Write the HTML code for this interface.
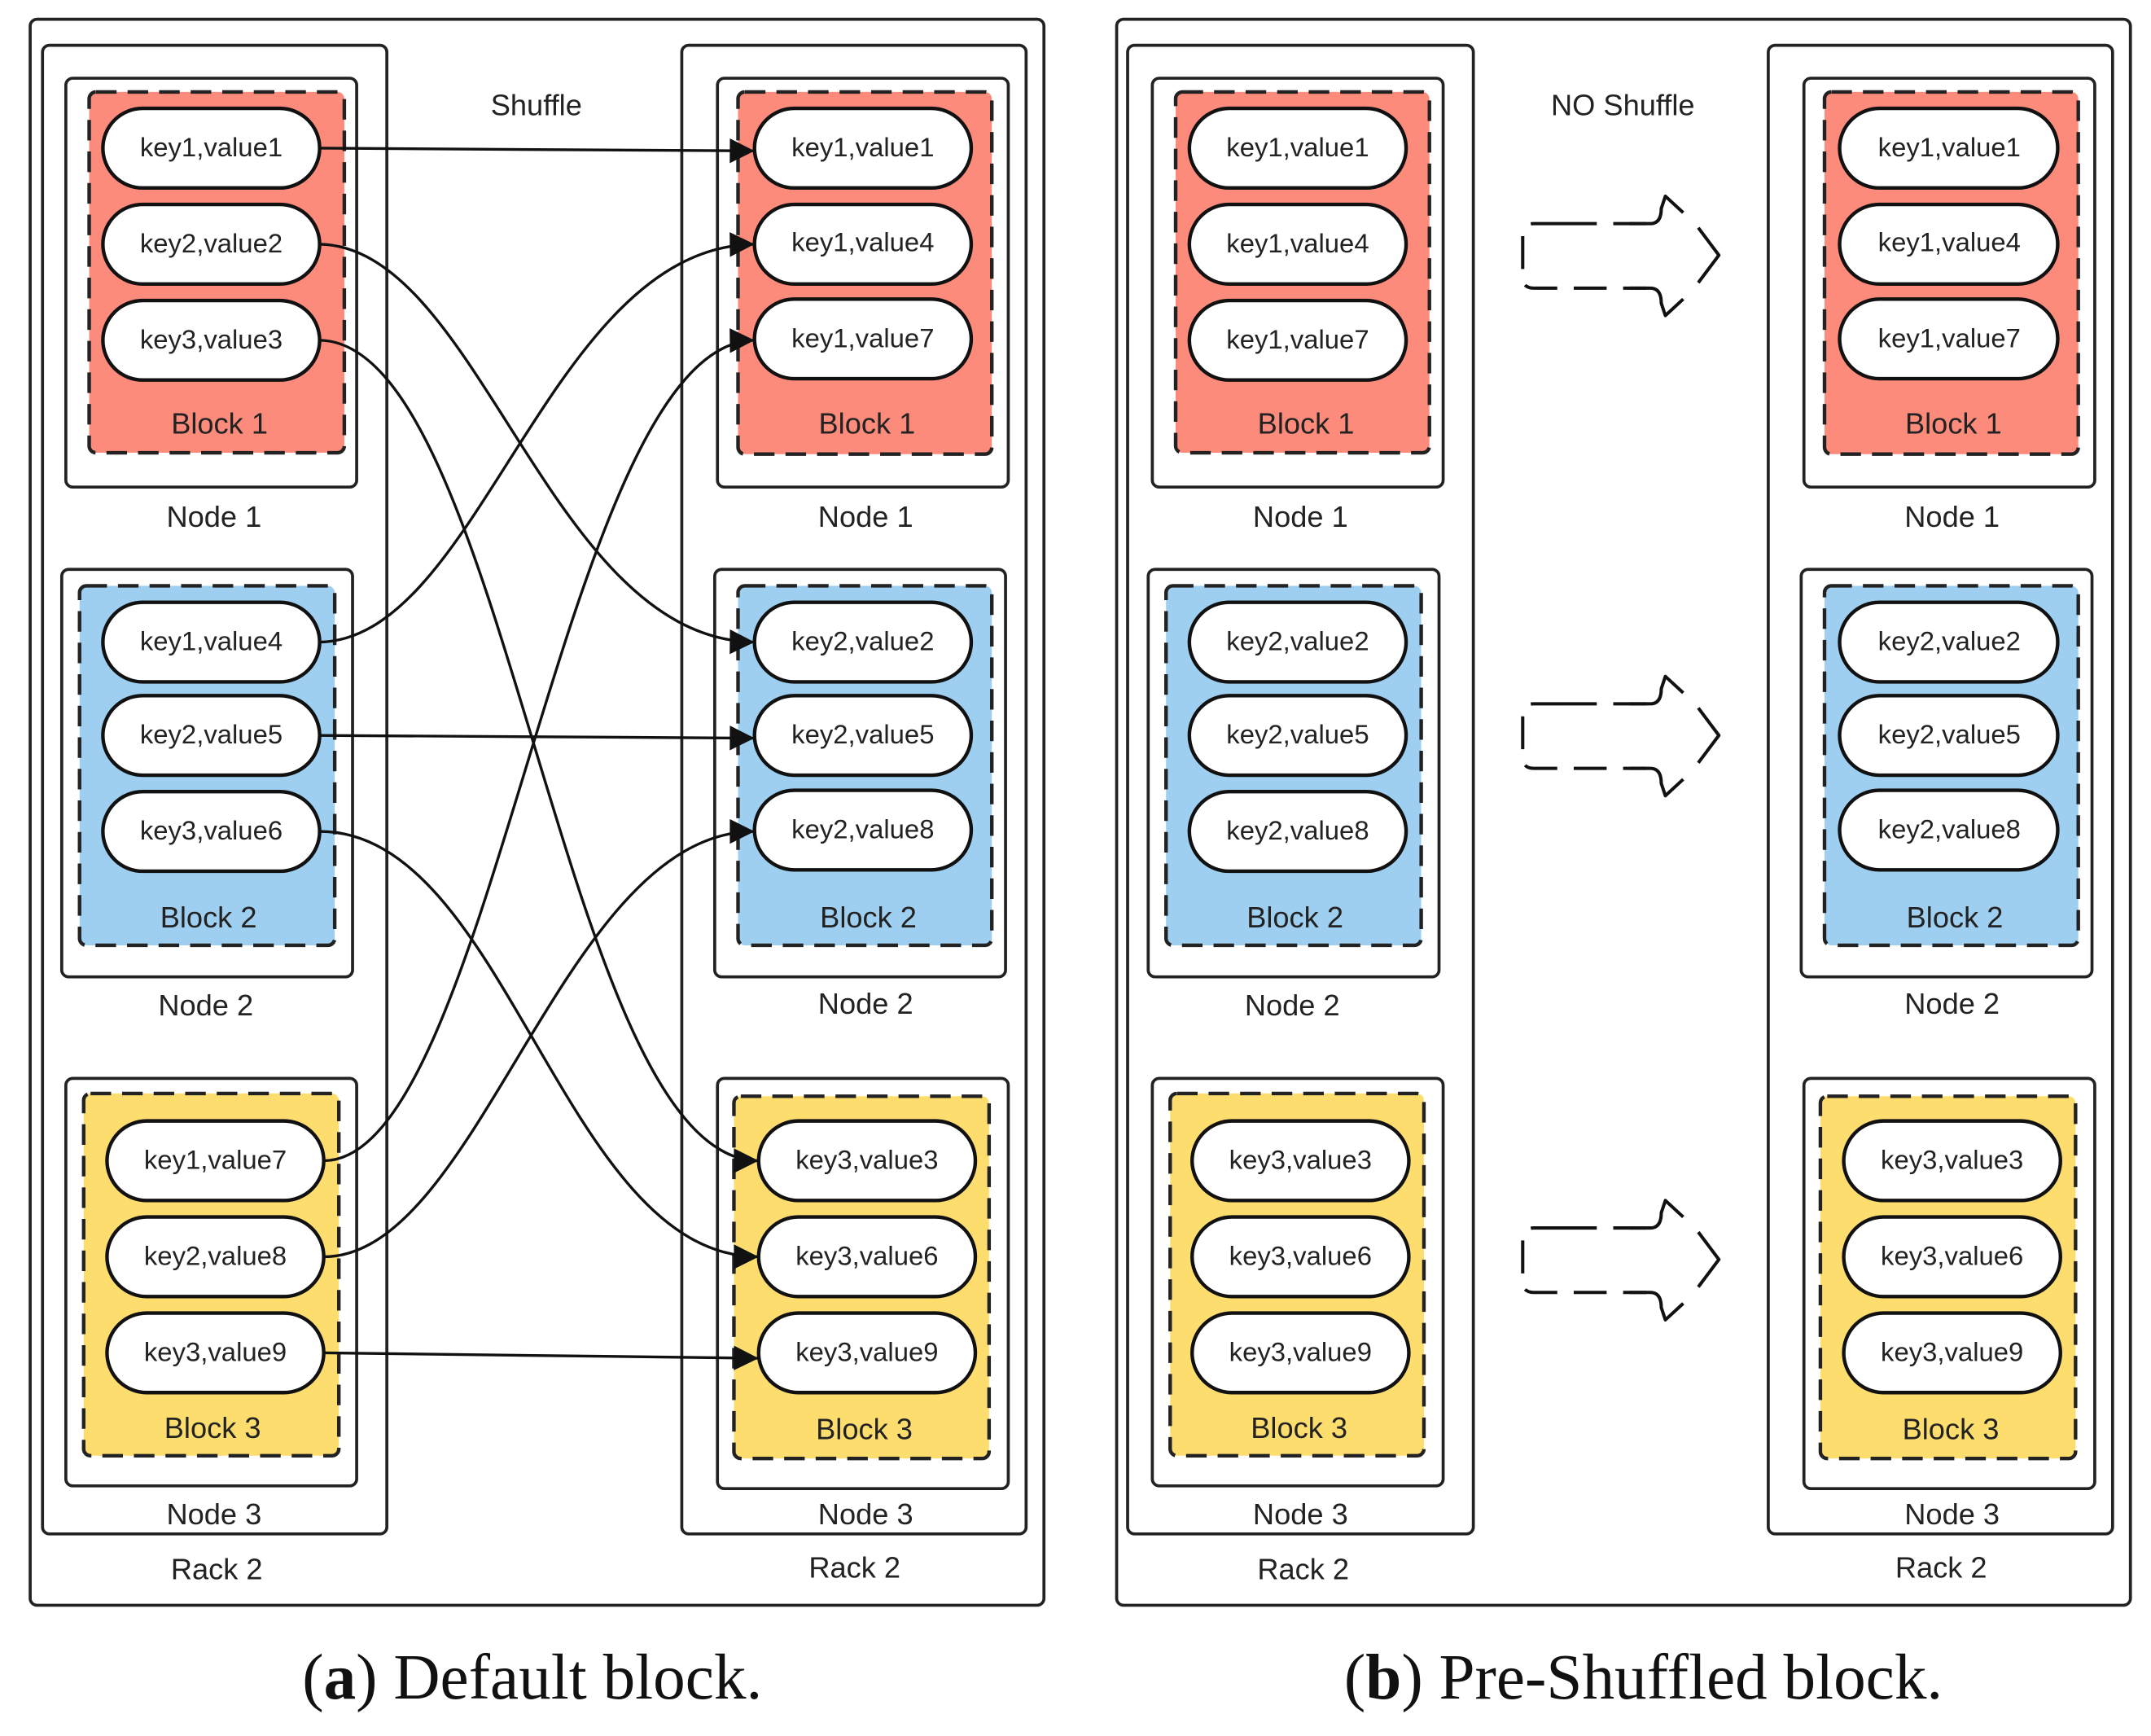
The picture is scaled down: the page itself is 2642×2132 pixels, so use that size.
<!DOCTYPE html>
<html><head><meta charset="utf-8"><style>
html,body{margin:0;padding:0;background:#fff}
svg{display:block}
.s{font-family:"Liberation Sans",sans-serif;fill:#222}
.p{font-size:19.5px}
.b{font-size:21.5px}
.n{font-size:21.5px}
.pill{fill:#fff;stroke:#111;stroke-width:2.6}
.box{fill:#fff;stroke:#222;stroke-width:2.2}
.blk{stroke:#222;stroke-width:2.6;stroke-dasharray:15 8}
.c{fill:none;stroke:#111;stroke-width:2}
.cap{font-family:"Liberation Serif",serif;font-size:47px;fill:#111}
</style></head><body>
<svg width="2642" height="2132" viewBox="0 0 1568 1265.3" preserveAspectRatio="none" xmlns="http://www.w3.org/2000/svg">
<defs>
<marker id="ar2" viewBox="0 0 10 10" markerWidth="20" markerHeight="18" refX="10" refY="5" orient="auto" markerUnits="userSpaceOnUse"><path d="M0,0 L10,5 L0,10 z" fill="#111"/></marker>
<g id="barrow">
<path d="M1140,163 L1118,163 Q1110,163 1110,171 L1110,202 Q1110,210 1118,210 L1200,210 M1200,163 L1140,163" fill="none" stroke="#111" stroke-width="2.4" stroke-dasharray="24 12"/>
<path d="M1188,163 L1203,163 Q1211,163 1211,152 L1214,143 L1227,155 M1238,166 L1253,186 L1238,206 M1188,210 L1203,210 Q1211,210 1211,221 L1214,230 L1227,218" fill="none" stroke="#111" stroke-width="2.4" stroke-linejoin="round"/>
</g>
</defs>

<!-- panel a -->
<rect x="22" y="14" width="739" height="1156" rx="5" class="box"/>
<rect x="31" y="33" width="251" height="1085" rx="5" class="box"/>
<rect x="497" y="33" width="251" height="1085" rx="5" class="box"/>
<text x="391" y="84" class="s n" text-anchor="middle">Shuffle</text>

<rect x="48" y="57" width="212" height="298" rx="5" class="box"/>
<rect x="65" y="67" width="186" height="263" rx="5" fill="#fc8b7b" class="blk"/>
<rect x="45" y="415" width="212" height="297" rx="5" class="box"/>
<rect x="58" y="427" width="186" height="262" rx="5" fill="#9ecff0" class="blk"/>
<rect x="48" y="786" width="212" height="297" rx="5" class="box"/>
<rect x="61" y="797" width="186" height="264" rx="5" fill="#fedd6f" class="blk"/>
<g class="s p" text-anchor="middle">
<rect x="75" y="79" width="158" height="58" rx="29" class="pill"/><text x="154" y="114">key1,value1</text>
<rect x="75" y="149" width="158" height="58" rx="29" class="pill"/><text x="154" y="184">key2,value2</text>
<rect x="75" y="219" width="158" height="58" rx="29" class="pill"/><text x="154" y="254">key3,value3</text>
<rect x="75" y="439" width="158" height="58" rx="29" class="pill"/><text x="154" y="474">key1,value4</text>
<rect x="75" y="507" width="158" height="58" rx="29" class="pill"/><text x="154" y="542">key2,value5</text>
<rect x="75" y="577" width="158" height="58" rx="29" class="pill"/><text x="154" y="612">key3,value6</text>
<rect x="78" y="817" width="158" height="58" rx="29" class="pill"/><text x="157" y="852">key1,value7</text>
<rect x="78" y="887" width="158" height="58" rx="29" class="pill"/><text x="157" y="922">key2,value8</text>
<rect x="78" y="957" width="158" height="58" rx="29" class="pill"/><text x="157" y="992">key3,value9</text>
</g>
<g class="s b" text-anchor="middle">
<text x="160" y="316">Block 1</text><text x="156" y="384">Node 1</text>
<text x="152" y="676">Block 2</text><text x="150" y="740">Node 2</text>
<text x="155" y="1048">Block 3</text><text x="156" y="1111">Node 3</text>
<text x="158" y="1151">Rack 2</text>
</g>

<rect x="523" y="57" width="212" height="298" rx="5" class="box"/>
<rect x="538" y="67" width="185" height="264" rx="5" fill="#fc8b7b" class="blk"/>
<rect x="521" y="415" width="212" height="297" rx="5" class="box"/>
<rect x="538" y="427" width="185" height="262" rx="5" fill="#9ecff0" class="blk"/>
<rect x="523" y="786" width="212" height="299" rx="5" class="box"/>
<rect x="535" y="799" width="186" height="264" rx="5" fill="#fedd6f" class="blk"/>
<g class="s p" text-anchor="middle">
<rect x="550" y="79" width="158" height="58" rx="29" class="pill"/><text x="629" y="114">key1,value1</text>
<rect x="550" y="149" width="158" height="58" rx="29" class="pill"/><text x="629" y="183">key1,value4</text>
<rect x="550" y="218" width="158" height="58" rx="29" class="pill"/><text x="629" y="253">key1,value7</text>
<rect x="550" y="439" width="158" height="58" rx="29" class="pill"/><text x="629" y="474">key2,value2</text>
<rect x="550" y="507" width="158" height="58" rx="29" class="pill"/><text x="629" y="542">key2,value5</text>
<rect x="550" y="576" width="158" height="58" rx="29" class="pill"/><text x="629" y="611">key2,value8</text>
<rect x="553" y="817" width="158" height="58" rx="29" class="pill"/><text x="632" y="852">key3,value3</text>
<rect x="553" y="887" width="158" height="58" rx="29" class="pill"/><text x="632" y="922">key3,value6</text>
<rect x="553" y="957" width="158" height="58" rx="29" class="pill"/><text x="632" y="992">key3,value9</text>
</g>
<g class="s b" text-anchor="middle">
<text x="632" y="316">Block 1</text><text x="631" y="384">Node 1</text>
<text x="633" y="676">Block 2</text><text x="631" y="739">Node 2</text>
<text x="630" y="1049">Block 3</text><text x="631" y="1111">Node 3</text>
<text x="623" y="1150">Rack 2</text>
</g>

<g class="c" marker-end="url(#ar2)">
<path d="M233,108 L550,110"/>
<path d="M233,178 C350,180 400,466 550,468"/>
<path d="M233,248 C370,250 410,846 553,846"/>
<path d="M233,468 C350,466 400,180 550,178"/>
<path d="M233,536 L550,538"/>
<path d="M233,606 C370,606 410,916 553,916"/>
<path d="M236,846 C360,846 410,250 550,248"/>
<path d="M236,916 C350,916 410,606 550,606"/>
<path d="M236,986 L553,990"/>
</g>

<!-- panel b -->
<rect x="814" y="14" width="739" height="1156" rx="5" class="box"/>
<rect x="822" y="33" width="252" height="1085" rx="5" class="box"/>
<rect x="1289" y="33" width="251" height="1085" rx="5" class="box"/>
<text x="1183" y="84" class="s n" text-anchor="middle">NO Shuffle</text>

<rect x="840" y="57" width="212" height="298" rx="5" class="box"/>
<rect x="857" y="67" width="185" height="263" rx="5" fill="#fc8b7b" class="blk"/>
<rect x="837" y="415" width="212" height="297" rx="5" class="box"/>
<rect x="850" y="427" width="186" height="262" rx="5" fill="#9ecff0" class="blk"/>
<rect x="840" y="786" width="212" height="297" rx="5" class="box"/>
<rect x="853" y="797" width="185" height="264" rx="5" fill="#fedd6f" class="blk"/>
<g class="s p" text-anchor="middle">
<rect x="867" y="79" width="158" height="58" rx="29" class="pill"/><text x="946" y="114">key1,value1</text>
<rect x="867" y="149" width="158" height="58" rx="29" class="pill"/><text x="946" y="184">key1,value4</text>
<rect x="867" y="219" width="158" height="58" rx="29" class="pill"/><text x="946" y="254">key1,value7</text>
<rect x="867" y="439" width="158" height="58" rx="29" class="pill"/><text x="946" y="474">key2,value2</text>
<rect x="867" y="507" width="158" height="58" rx="29" class="pill"/><text x="946" y="542">key2,value5</text>
<rect x="867" y="577" width="158" height="58" rx="29" class="pill"/><text x="946" y="612">key2,value8</text>
<rect x="869" y="817" width="158" height="58" rx="29" class="pill"/><text x="948" y="852">key3,value3</text>
<rect x="869" y="887" width="158" height="58" rx="29" class="pill"/><text x="948" y="922">key3,value6</text>
<rect x="869" y="957" width="158" height="58" rx="29" class="pill"/><text x="948" y="992">key3,value9</text>
</g>
<g class="s b" text-anchor="middle">
<text x="952" y="316">Block 1</text><text x="948" y="384">Node 1</text>
<text x="944" y="676">Block 2</text><text x="942" y="740">Node 2</text>
<text x="947" y="1048">Block 3</text><text x="948" y="1111">Node 3</text>
<text x="950" y="1151">Rack 2</text>
</g>

<rect x="1315" y="57" width="212" height="298" rx="5" class="box"/>
<rect x="1330" y="67" width="185" height="264" rx="5" fill="#fc8b7b" class="blk"/>
<rect x="1313" y="415" width="212" height="297" rx="5" class="box"/>
<rect x="1330" y="427" width="185" height="262" rx="5" fill="#9ecff0" class="blk"/>
<rect x="1315" y="786" width="212" height="299" rx="5" class="box"/>
<rect x="1327" y="799" width="186" height="264" rx="5" fill="#fedd6f" class="blk"/>
<g class="s p" text-anchor="middle">
<rect x="1341" y="79" width="159" height="58" rx="29" class="pill"/><text x="1421" y="114">key1,value1</text>
<rect x="1341" y="149" width="159" height="58" rx="29" class="pill"/><text x="1421" y="183">key1,value4</text>
<rect x="1341" y="218" width="159" height="58" rx="29" class="pill"/><text x="1421" y="253">key1,value7</text>
<rect x="1341" y="439" width="159" height="58" rx="29" class="pill"/><text x="1421" y="474">key2,value2</text>
<rect x="1341" y="507" width="159" height="58" rx="29" class="pill"/><text x="1421" y="542">key2,value5</text>
<rect x="1341" y="576" width="159" height="58" rx="29" class="pill"/><text x="1421" y="611">key2,value8</text>
<rect x="1344" y="817" width="158" height="58" rx="29" class="pill"/><text x="1423" y="852">key3,value3</text>
<rect x="1344" y="887" width="158" height="58" rx="29" class="pill"/><text x="1423" y="922">key3,value6</text>
<rect x="1344" y="957" width="158" height="58" rx="29" class="pill"/><text x="1423" y="992">key3,value9</text>
</g>
<g class="s b" text-anchor="middle">
<text x="1424" y="316">Block 1</text><text x="1423" y="384">Node 1</text>
<text x="1425" y="676">Block 2</text><text x="1423" y="739">Node 2</text>
<text x="1422" y="1049">Block 3</text><text x="1423" y="1111">Node 3</text>
<text x="1415" y="1150">Rack 2</text>
</g>

<use href="#barrow"/>
<use href="#barrow" transform="translate(0,350)"/>
<use href="#barrow" transform="translate(0,732)"/>

<text x="388" y="1238" class="cap" text-anchor="middle">(<tspan font-weight="bold">a</tspan>) Default block.</text>
<text x="1198" y="1238" class="cap" text-anchor="middle">(<tspan font-weight="bold">b</tspan>) Pre-Shuffled block.</text>
</svg>
</body></html>
